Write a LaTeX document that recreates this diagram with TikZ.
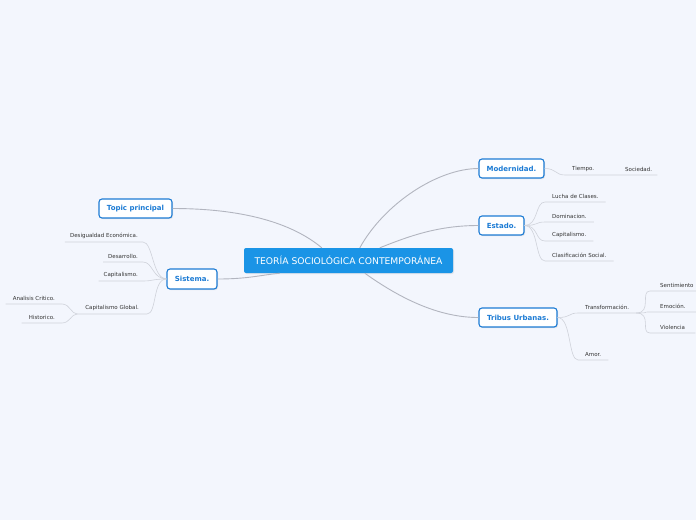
\documentclass[tikz,border=0pt]{standalone}
\usepackage{fontspec}
\setmainfont{DejaVu Sans}
\usetikzlibrary{shadows}
\definecolor{bgpage}{HTML}{F3F6FD}
\definecolor{mainblue}{HTML}{1A94E6}
\definecolor{topicblue}{HTML}{1C7BD4}
\definecolor{linkgray}{HTML}{B2B5BF}
\definecolor{leafgray}{HTML}{CFD2DA}
\definecolor{leaftext}{HTML}{333333}
\begin{document}
\begin{tikzpicture}[x=1pt, y=-1pt,
    central/.style={fill=mainblue, rounded corners=2pt, text=white,
        font=\fontsize{9.2}{11}\selectfont, minimum width=209pt, minimum height=25pt, inner sep=0pt,
        drop shadow={opacity=0.15, shadow xshift=1pt, shadow yshift=-1pt}},
    topic/.style={draw=topicblue, line width=1.1pt, fill=white, rounded corners=3pt, text=topicblue,
        font=\fontsize{7}{8}\selectfont\bfseries, minimum height=19pt, inner xsep=2pt, inner ysep=0pt,
        drop shadow={opacity=0.18, shadow xshift=1pt, shadow yshift=-1.2pt}},
    leaf/.style={text=leaftext, font=\fontsize{5.5}{6.5}\selectfont, inner xsep=5pt, inner ysep=3pt},
    link/.style={draw=linkgray, line width=0.9pt},
    twig/.style={draw=leafgray, line width=0.6pt}
    ]
    \useasboundingbox (0,0) rectangle (696,520);
    \fill[bgpage] (0,0) rectangle (696,520);

    \node[central] (teoria) at (348.5,260.5) {TEORÍA SOCIOLÓGICA CONTEMPORÁNEA};

    \node[topic, minimum width=73pt] (topic) at (135.5,208.5) {Topic principal};
    \node[topic, minimum width=50pt, minimum height=20pt] (sistema) at (192,279) {Sistema.};
    \node[topic, minimum width=65pt] (modern) at (511.5,168.5) {Modernidad.};
    \node[topic, minimum width=45pt] (estado) at (501.5,225.5) {Estado.};
    \node[topic, minimum width=78pt] (tribus) at (518,317.5) {Tribus Urbanas.};

    \node[leaf, anchor=south east] (desig) at (143,242) {Desigualdad Económica.};
    \node[leaf, anchor=south east] (desarr) at (143,262) {Desarrollo.};
    \node[leaf, anchor=south east] (capit) at (143,281) {Capitalismo.};
    \node[leaf, anchor=south east, inner xsep=8pt] (capglob) at (147,314) {Capitalismo Global.};
    \node[leaf, anchor=south east, inner xsep=7pt] (analisis) at (62,304) {Analisis Critico.};
    \node[leaf, anchor=south east, inner xsep=7pt] (historico) at (62,323) {Historico.};

    \node[leaf, anchor=south west, inner xsep=7pt] (tiempo) at (565,175) {Tiempo.};
    \node[leaf, anchor=south west] (sociedad) at (620,175) {Sociedad.};

    \node[leaf, anchor=south west, inner xsep=7pt] (lucha) at (545,202) {Lucha de Clases.};
    \node[leaf, anchor=south west, inner xsep=7pt] (domina) at (545,222) {Dominacion.};
    \node[leaf, anchor=south west, inner xsep=7pt] (capest) at (545,241) {Capitalismo.};
    \node[leaf, anchor=south west, inner xsep=7pt] (clasif) at (545,261) {Clasificación Social.};

    \node[leaf, anchor=south west, inner xsep=7pt] (transf) at (578,313) {Transformación.};
    \node[leaf, anchor=south west, inner xsep=7pt] (amor) at (578,360) {Amor.};
    \node[leaf, anchor=south west, inner xsep=10pt] (sentim) at (650,291) {Sentimiento};
    \node[leaf, anchor=south west, inner xsep=10pt] (emocion) at (650,312) {Emoción.};
    \node[leaf, anchor=south west, inner xsep=10pt] (violen) at (650,333) {Violencia};

    \draw[link] (topic.east) .. controls +(70,0) and +(-30,-25) .. ([xshift=78pt]teoria.north west);
    \draw[link] (sistema.east) .. controls +(30,0) and +(-20,2) .. ([xshift=36pt]teoria.south west);
    \draw[link] (modern.west) .. controls +(-40,0) and +(25,-45) .. ([xshift=116pt]teoria.north west);
    \draw[link] (estado.west) .. controls +(-40,0) and +(30,-12) .. ([xshift=136pt]teoria.north west);
    \draw[link] (tribus.west) .. controls +(-40,0) and +(35,25) .. ([xshift=121pt]teoria.south west);

    \foreach \leaf in {desig, desarr, capit, capglob}
        \draw[twig] (sistema.west) .. controls +(-14,0) and +(10,0) .. (\leaf.south east) -- (\leaf.south west);
    \foreach \leaf in {analisis, historico}
        \draw[twig] (capglob.south west) .. controls +(-6,0) and +(8,0) .. (\leaf.south east) -- (\leaf.south west);

    \draw[twig] (modern.east) .. controls +(12,0) and +(-10,0) .. (tiempo.south west) -- (sociedad.south west) -- (sociedad.south east);

    \foreach \leaf in {lucha, domina, capest, clasif}
        \draw[twig] (estado.east) .. controls +(14,0) and +(-10,0) .. (\leaf.south west) -- (\leaf.south east);

    \foreach \leaf in {transf, amor}
        \draw[twig] (tribus.east) .. controls +(14,0) and +(-10,0) .. (\leaf.south west) -- (\leaf.south east);
    \foreach \leaf in {sentim, emocion, violen}
        \draw[twig] (transf.south east) .. controls +(16,0) and +(-10,0) .. (\leaf.south west) -- (\leaf.south east);
\end{tikzpicture}
\end{document}
